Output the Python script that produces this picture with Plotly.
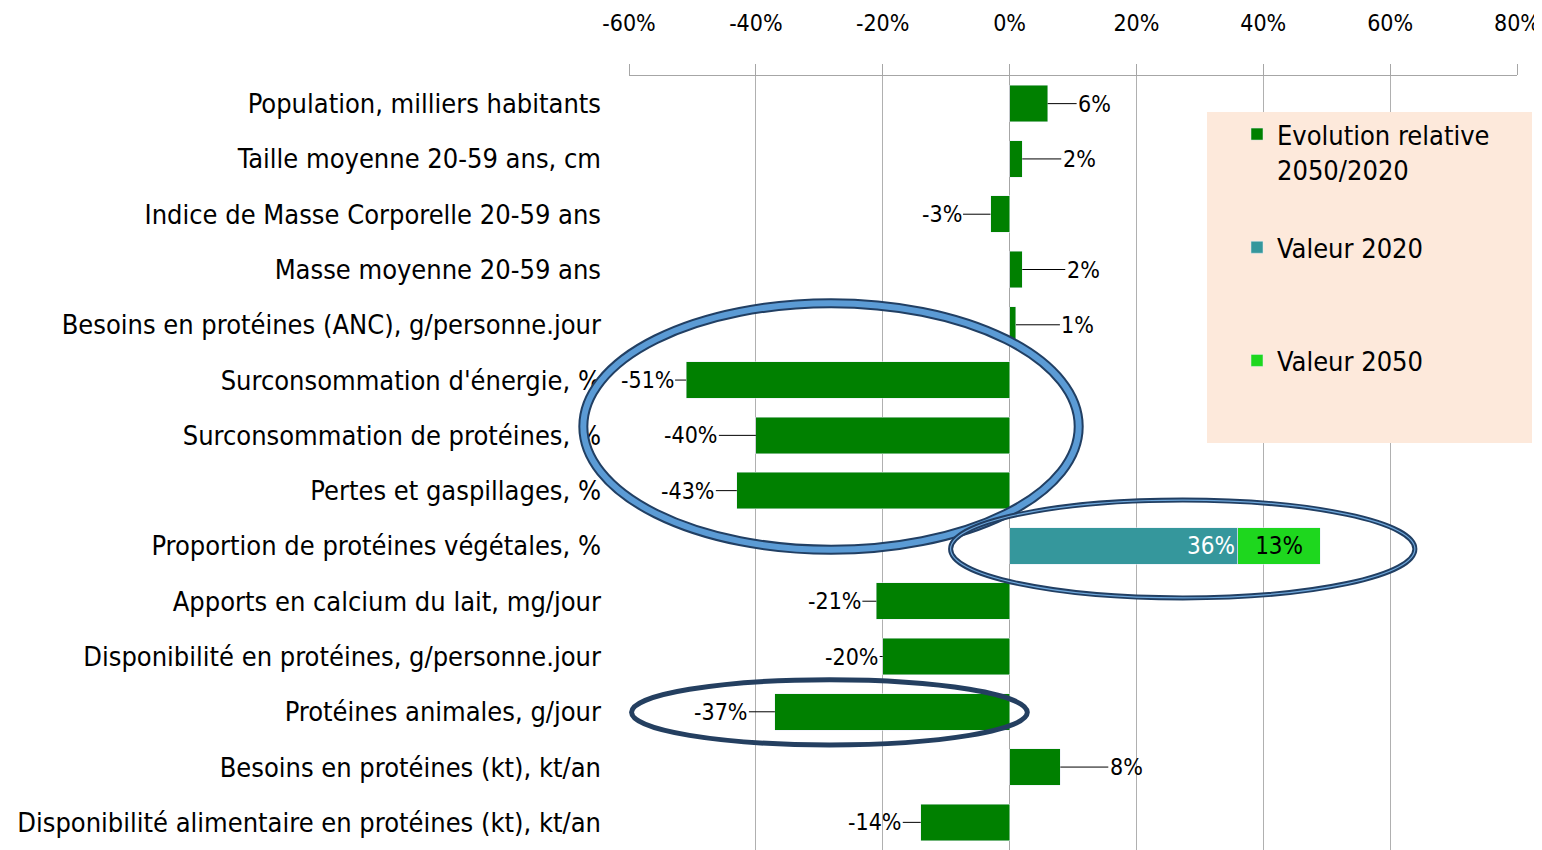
import plotly.graph_objects as go

categories = [
    "Population, milliers habitants",
    "Taille moyenne 20-59 ans, cm",
    "Indice de Masse Corporelle 20-59 ans",
    "Masse moyenne 20-59 ans",
    "Besoins en protéines (ANC), g/personne.jour",
    "Surconsommation d'énergie, %",
    "Surconsommation de protéines, %",
    "Pertes et gaspillages, %",
    "Proportion de protéines végétales, %",
    "Apports en calcium du lait, mg/jour",
    "Disponibilité en protéines, g/personne.jour",
    "Protéines animales, g/jour",
    "Besoins en protéines (kt), kt/an",
    "Disponibilité alimentaire en protéines (kt), kt/an",
]
evolution = [6, 2, -3, 2, 1, -51, -40, -43, None, -21, -20, -37, 8, -14]
valeur_2020 = [None, None, None, None, None, None, None, None, 36, None, None, None, None, None]
valeur_2050 = [None, None, None, None, None, None, None, None, 13, None, None, None, None, None]
x_ticks = [-60, -40, -20, 0, 20, 40, 60, 80]

# pixel shift of each data label from the bar end (layout only)
label_shift = [47, 57, -49, 61, 62, -39, -65, -49, 0, -42, -31, -54, 66, -46]

FONT = "DejaVu Sans Condensed, Liberation Sans Narrow, sans-serif"
DARK_GREEN = "#008000"
TEAL = "#35979c"
LIGHT_GREEN = "#1ed71e"

XMIN, XMAX = -60, 80
YTOP, YBOT = -0.5, 13.5

# the page body adds an 8px margin, so the figure is sized/placed to compensate
OFF = 8
W, H = 1542 - OFF, 850 - OFF
PL, PR, PT, PB = 629 - OFF, 1517 - OFF, 76 - OFF, 850 - OFF
PW, PH = PR - PL, PB - PT


def fx(v):
    return (v - XMIN) / (XMAX - XMIN)


def fy(v):
    return (YBOT - v) / (YBOT - YTOP)


def px(x):
    return (x - OFF - PL) / PW


def py(y):
    return 1 - (y - OFF - PT) / PH


fig = go.Figure()
fig.add_trace(go.Bar(
    y=categories, x=evolution, orientation="h", name="Evolution relative<br>2050/2020",
    marker_color=DARK_GREEN, width=0.66, legendgroup="a"))
fig.add_trace(go.Bar(
    y=categories, x=valeur_2020, orientation="h", name="Valeur 2020<br>\u00a0",
    marker_color=TEAL, width=0.66, legendgroup="b",
    text=[f"{v}%" if v is not None else "" for v in valeur_2020],
    textposition="inside", insidetextanchor="end",
    textfont=dict(color="white", size=24, family=FONT)))
fig.add_trace(go.Bar(
    y=categories, x=valeur_2050, orientation="h", name="Valeur 2050",
    marker_color=LIGHT_GREEN, width=0.66, legendgroup="c",
    text=[f"{v}%" if v is not None else "" for v in valeur_2050],
    textposition="inside", insidetextanchor="middle",
    textfont=dict(color="black", size=24, family=FONT)))

for cat, v, dx in zip(categories, evolution, label_shift):
    if v is None:
        continue
    fig.add_annotation(
        x=v, y=cat, text=f"{v}%", showarrow=True, arrowhead=0, arrowwidth=1,
        arrowcolor="black", ax=dx, ay=0, standoff=0,
        font=dict(size=23, family=FONT, color="black"))

shapes = []
# legend background
shapes.append(dict(type="rect", xref="paper", yref="paper",
                   x0=px(1207), x1=px(1532), y0=py(443), y1=py(112),
                   fillcolor="#fde9db", line=dict(width=0), layer="above"))


def ellipse(x0, x1, y0, y1, color, width):
    return dict(type="circle", xref="x domain", yref="y domain",
                x0=fx(x0), x1=fx(x1), y0=fy(y1), y1=fy(y0),
                line=dict(color=color, width=width), layer="above")


shapes.append(ellipse(-67.2, 10.9, 3.61, 8.07, "#213f63", 10))
shapes.append(ellipse(-67.2, 10.9, 3.61, 8.07, "#5b9bd5", 6))
shapes.append(ellipse(-9.3, 63.9, 7.17, 8.94, "#213f63", 5))
shapes.append(ellipse(-9.3, 63.9, 7.17, 8.94, "#6fa8dc", 1.2))
shapes.append(ellipse(-59.6, 2.8, 10.42, 11.6, "#243f60", 5))

fig.update_layout(
    barmode="stack",
    width=W, height=H,
    margin=dict(l=PL, r=W - PR, t=PT, b=H - PB),
    paper_bgcolor="white", plot_bgcolor="white",
    font=dict(family=FONT, color="black"),
    shapes=shapes,
    showlegend=True,
    legend=dict(x=px(1237), y=py(110),
                xanchor="left", yanchor="top", bgcolor="rgba(0,0,0,0)",
                font=dict(size=27, family=FONT, color="black"),
                valign="top", tracegroupgap=40, traceorder="grouped",
                itemwidth=30),
    xaxis=dict(side="top", range=[XMIN, XMAX], tickvals=x_ticks,
               ticktext=[f"{t}%" for t in x_ticks],
               tickfont=dict(size=23, family=FONT),
               showgrid=True, gridcolor="#b0b0b0", gridwidth=1,
               zeroline=True, zerolinecolor="#a6a6a6", zerolinewidth=1,
               showline=True, linecolor="#a6a6a6", linewidth=1,
               ticks="outside", ticklen=11, tickcolor="#a6a6a6",
               ticklabelstandoff=24, automargin=False),
    yaxis=dict(range=[YBOT, YTOP], type="category",
               tickfont=dict(size=27, family=FONT),
               showgrid=False, zeroline=False, showline=False,
               ticklabelstandoff=27, automargin=False),
)

fig.write_html("out.html")
